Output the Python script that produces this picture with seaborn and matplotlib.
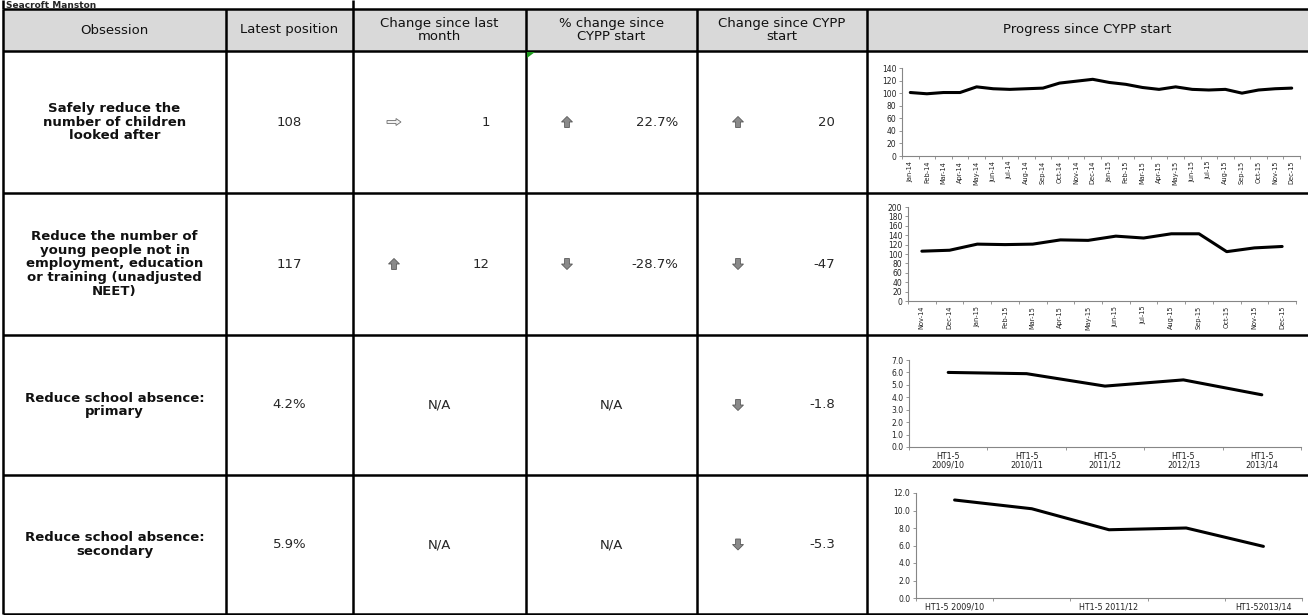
import numpy as np
import matplotlib
matplotlib.use('Agg')
import matplotlib.pyplot as plt
from matplotlib.patches import Polygon, Rectangle
import seaborn as sns

sns.set_theme(style='white')
plt.rcParams['font.family'] = ['DejaVu Sans']

# ---- table contents ----
area_name = 'Seacroft Manston'
headers = ['Obsession', 'Latest position', 'Change since last\nmonth',
           '% change since\nCYPP start', 'Change since CYPP\nstart',
           'Progress since CYPP start']
obsessions = ['Safely reduce the\nnumber of children\nlooked after',
              'Reduce the number of\nyoung people not in\nemployment, education\nor training (unadjusted\nNEET)',
              'Reduce school absence:\nprimary',
              'Reduce school absence:\nsecondary']
latest = ['108', '117', '4.2%', '5.9%']
month_change = ['1', '12', 'N/A', 'N/A']
month_dir = ['right', 'up', None, None]
pct_change = ['22.7%', '-28.7%', 'N/A', 'N/A']
pct_dir = ['up', 'down', None, None]
cypp_change = ['20', '-47', '-1.8', '-5.3']
cypp_dir = ['up', 'down', 'down', 'down']

# ---- sparkline data ----
looked_after_months = ['Jan-14', 'Feb-14', 'Mar-14', 'Apr-14', 'May-14', 'Jun-14', 'Jul-14', 'Aug-14',
                       'Sep-14', 'Oct-14', 'Nov-14', 'Dec-14', 'Jan-15', 'Feb-15', 'Mar-15', 'Apr-15',
                       'May-15', 'Jun-15', 'Jul-15', 'Aug-15', 'Sep-15', 'Oct-15', 'Nov-15', 'Dec-15']
looked_after_values = [101, 99, 101, 101, 110, 107, 106, 107, 108, 116, 119, 122,
                       117, 114, 109, 106, 110, 106, 105, 106, 100, 105, 107, 108]

neet_months = ['Nov-14', 'Dec-14', 'Jan-15', 'Feb-15', 'Mar-15', 'Apr-15', 'May-15',
               'Jun-15', 'Jul-15', 'Aug-15', 'Sep-15', 'Oct-15', 'Nov-15', 'Dec-15']
neet_values = [106, 108, 121, 120, 121, 130, 129, 138, 134, 143, 143, 105, 113, 116]

primary_terms = ['HT1-5\n2009/10', 'HT1-5\n2010/11', 'HT1-5\n2011/12', 'HT1-5\n2012/13', 'HT1-5\n2013/14']
primary_values = [6.0, 5.9, 4.9, 5.4, 4.2]

secondary_terms = ['HT1-5 2009/10', 'HT1-5 2010/11', 'HT1-5 2011/12', 'HT1-5 2012/13', 'HT1-52013/14']
secondary_values = [11.2, 10.2, 7.8, 8.0, 5.9]

W, H = 1308, 615
col_edges = [3, 226, 353, 526, 697, 867]
row_edges = [9, 51, 193, 335, 475, 614]

fig = plt.figure(figsize=(W / 100, H / 100), dpi=100)
tab = fig.add_axes([0, 0, 1, 1])
tab.set_xlim(0, W)
tab.set_ylim(H, 0)
tab.axis('off')

# header shading
tab.add_patch(Rectangle((col_edges[0], row_edges[0]), W - col_edges[0],
                        row_edges[1] - row_edges[0], facecolor='#d9d9d9', edgecolor='none'))

# grid lines
lw = 1.8
tab.hlines(row_edges, col_edges[0], W, color='black', lw=lw)
tab.vlines(col_edges, row_edges[0], row_edges[-1], color='black', lw=lw)
tab.vlines([col_edges[0], col_edges[2]], 0, row_edges[0], color='black', lw=lw)
tab.text(col_edges[0] + 3, row_edges[0] - 1.5, area_name, fontsize=6.5, fontweight='bold',
         ha='left', va='baseline')

# small green marker in a cell corner
tab.add_patch(Polygon([(col_edges[3] + 1, row_edges[1] + 1), (col_edges[3] + 9, row_edges[1] + 1),
                       (col_edges[3] + 1, row_edges[1] + 7)], closed=True,
                      facecolor='#1f9a1f', edgecolor='none', zorder=3))

centers_x = [(a + b) / 2 for a, b in zip(col_edges, col_edges[1:] + [W])]
centers_y = [(a + b) / 2 for a, b in zip(row_edges[:-1], row_edges[1:])]

for cx, h in zip(centers_x, headers):
    tab.text(cx, centers_y[0], h, fontsize=9.5, ha='center', va='center', linespacing=1.05,
             color='#111111')


def draw_arrow(x, y, kind):
    if kind == 'up':
        pts = [(x, y - 5.5), (x + 5.5, y), (x + 2.4, y), (x + 2.4, y + 5.5),
               (x - 2.4, y + 5.5), (x - 2.4, y), (x - 5.5, y)]
        fc, ec = '#8a8a8a', '#5a5a5a'
    elif kind == 'down':
        pts = [(x, y + 5.5), (x + 5.5, y), (x + 2.4, y), (x + 2.4, y - 5.5),
               (x - 2.4, y - 5.5), (x - 2.4, y), (x - 5.5, y)]
        fc, ec = '#8a8a8a', '#5a5a5a'
    else:
        pts = [(x + 7, y), (x + 2, y - 3.5), (x + 2, y - 1.5), (x - 7, y - 1.5),
               (x - 7, y + 1.5), (x + 2, y + 1.5), (x + 2, y + 3.5)]
        fc, ec = '#f2f2f2', '#6e6e6e'
    tab.add_patch(Polygon(pts, closed=True, facecolor=fc, edgecolor=ec, lw=0.6))


body_rows = centers_y[1:]
for i, cy in enumerate(body_rows):
    tab.text(centers_x[0], cy, obsessions[i], fontsize=9.5, fontweight='bold',
             ha='center', va='center', linespacing=1.05, color='#111111')
    tab.text(centers_x[1], cy, latest[i], fontsize=9.5, ha='center', va='center')
    # change since last month
    if month_dir[i]:
        draw_arrow(394, cy, month_dir[i])
        tab.text(490, cy, month_change[i], fontsize=9.5, ha='right', va='center')
    else:
        tab.text(centers_x[2], cy, month_change[i], fontsize=9.5, ha='center', va='center')
    # % change since CYPP start
    if pct_dir[i]:
        draw_arrow(567, cy, pct_dir[i])
        tab.text(678, cy, pct_change[i], fontsize=9.5, ha='right', va='center')
    else:
        tab.text(centers_x[3], cy, pct_change[i], fontsize=9.5, ha='center', va='center')
    # change since CYPP start
    draw_arrow(738, cy, cypp_dir[i])
    tab.text(835, cy, cypp_change[i], fontsize=9.5, ha='right', va='center')


def spark_axes(x0, y0, x1, y1):
    ax = fig.add_axes([x0 / W, 1 - y1 / H, (x1 - x0) / W, (y1 - y0) / H])
    ax.set_facecolor('none')
    sns.despine(ax=ax)
    for s in ['left', 'bottom']:
        ax.spines[s].set_color('#868686')
        ax.spines[s].set_linewidth(0.8)
    ax.tick_params(which='both', left=True, bottom=True, color='#868686', width=0.6)
    ax.tick_params(axis='y', length=2.5, labelsize=5.5, pad=1.5, labelcolor='#222222')
    ax.tick_params(axis='x', which='major', length=0, labelcolor='#222222')
    ax.tick_params(axis='x', which='minor', length=2.5)
    return ax


def spark(ax, labels, values, ymax, ystep, fmt, label_every=1, rot=0, xsize=5.5):
    n = len(values)
    pos = np.arange(n)
    sns.lineplot(x=pos, y=values, ax=ax, color='black', linewidth=2.2)
    ax.set_xlim(-0.5, n - 0.5)
    ax.set_ylim(0, ymax)
    yt = np.arange(0, ymax + ystep / 2, ystep)
    ax.set_yticks(yt)
    ax.set_yticklabels([fmt.format(v) for v in yt])
    ax.set_xticks(pos[::label_every])
    ax.set_xticklabels(labels[::label_every], rotation=rot, fontsize=xsize, linespacing=1.0)
    ax.set_xticks(np.arange(-0.5, n), minor=True)
    ax.set_xlabel('')
    ax.set_ylabel('')


ax1 = spark_axes(902, 68, 1300, 156)
spark(ax1, looked_after_months, looked_after_values, 140, 20, '{:.0f}', rot=90, xsize=4.8)

ax2 = spark_axes(908, 207, 1296, 301)
spark(ax2, neet_months, neet_values, 200, 20, '{:.0f}', rot=90, xsize=4.8)

ax3 = spark_axes(909, 360, 1301, 447)
spark(ax3, primary_terms, primary_values, 7.0, 1.0, '{:.1f}', xsize=5.8)

ax4 = spark_axes(916, 493, 1302, 598)
spark(ax4, secondary_terms, secondary_values, 12.0, 2.0, '{:.1f}', label_every=2, xsize=5.8)

plt.savefig('out.png', dpi=100)
